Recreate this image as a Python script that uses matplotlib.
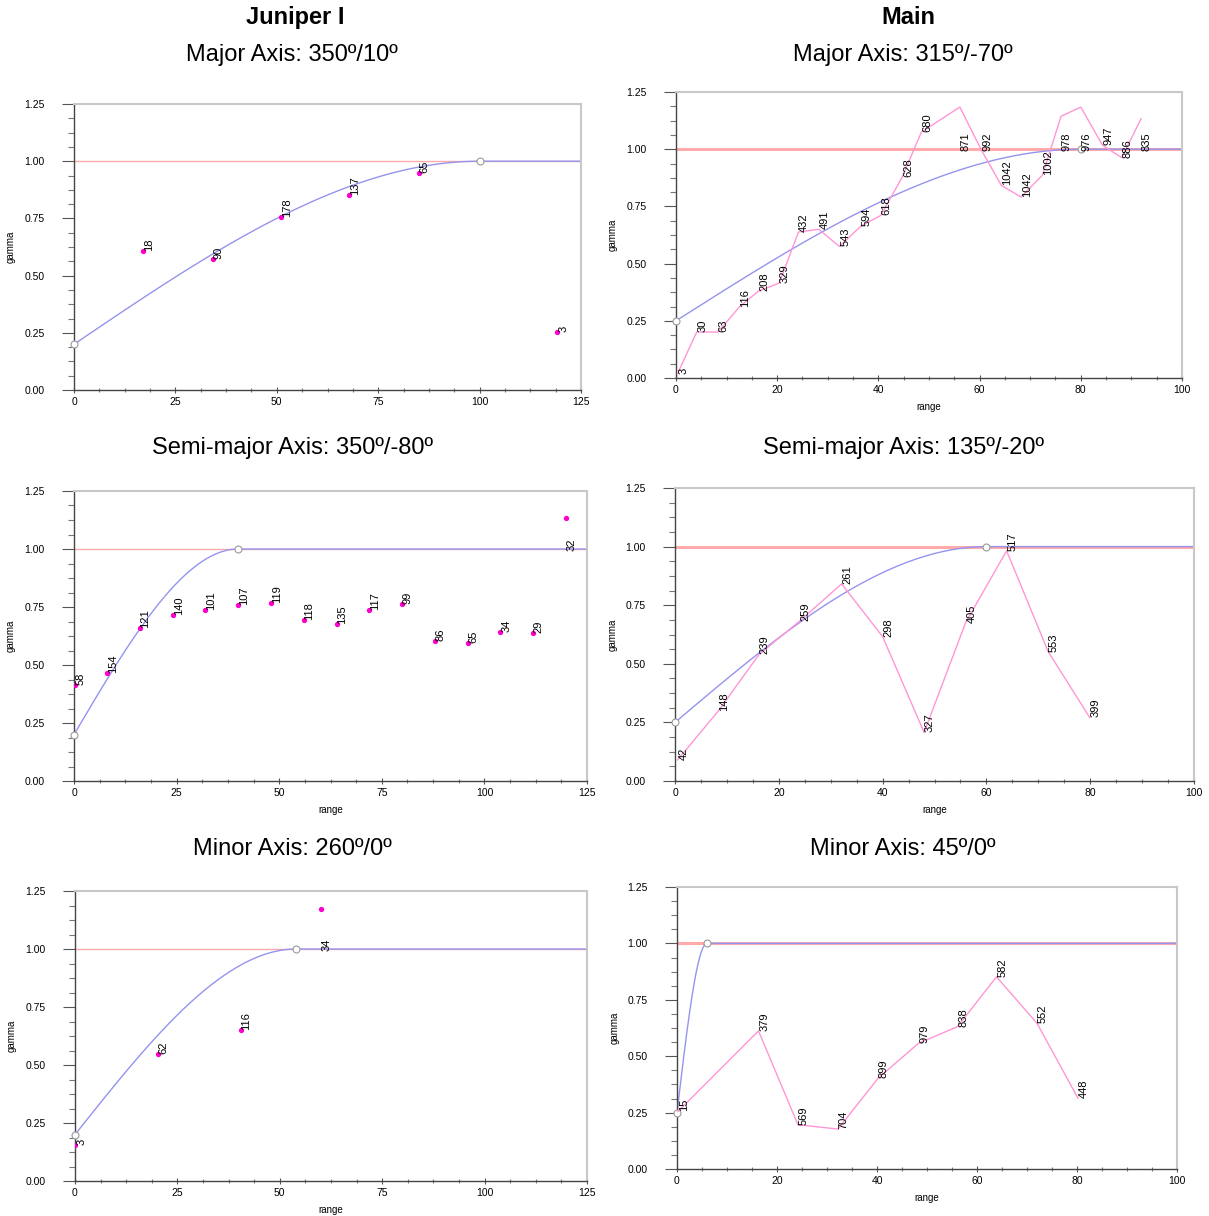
import numpy as np
import matplotlib
matplotlib.use('Agg')
import matplotlib.pyplot as plt
from matplotlib.ticker import MultipleLocator, AutoMinorLocator

plt.rcParams['font.family'] = ['Liberation Sans', 'DejaVu Sans']

# Juniper I - experimental variogram points (lag, gamma, number of pairs)
jun_major_lag = [17.0, 34.2, 51.1, 67.9, 85.1, 119.2]
jun_major_gamma = [0.609, 0.571, 0.756, 0.852, 0.950, 0.252]
jun_major_pairs = [18, 90, 178, 137, 65, 3]

jun_semi_lag = [0.2, 8.1, 16.0, 24.1, 32.0, 40.0, 48.0, 56.0, 64.0, 72.0,
                79.9, 87.9, 95.9, 103.9, 111.9, 119.9]
jun_semi_gamma = [0.415, 0.464, 0.661, 0.714, 0.736, 0.757, 0.767, 0.695, 0.675,
                  0.736, 0.761, 0.603, 0.596, 0.644, 0.639, 1.135]
jun_semi_pairs = [58, 154, 121, 140, 101, 107, 119, 118, 135, 117, 99, 86, 65, 34, 29, 32]

jun_minor_lag = [0.1, 20.3, 40.5, 60.0]
jun_minor_gamma = [0.154, 0.548, 0.652, 1.171]
jun_minor_pairs = [3, 62, 116, 34]

# Main
main_major_lag = [0.3, 4.1, 8.3, 12.5, 16.3, 20.4, 24.2, 28.2, 32.3, 36.5, 40.5, 44.7,
                  48.5, 56.1, 60.5, 64.3, 68.2, 72.4, 76.1, 80.0, 84.3, 88.1, 91.9]
main_major_gamma = [0.019, 0.201, 0.201, 0.310, 0.380, 0.415, 0.638, 0.650, 0.575, 0.663,
                    0.711, 0.878, 1.075, 1.184, 0.990, 0.842, 0.791, 0.886, 1.144, 1.184,
                    1.017, 0.963, 1.133]
main_major_pairs = [3, 30, 63, 116, 208, 329, 432, 491, 543, 594, 618, 628, 680, 871, 992,
                    1042, 1042, 1002, 978, 976, 947, 886, 835]

main_semi_lag = [0.5, 8.4, 16.2, 24.1, 32.1, 40.0, 48.0, 56.0, 63.9, 71.9, 79.9]
main_semi_gamma = [0.09, 0.30, 0.54, 0.684, 0.841, 0.616, 0.207, 0.676, 0.982, 0.552, 0.271]
main_semi_pairs = [42, 148, 239, 259, 261, 298, 327, 405, 517, 553, 399]

main_minor_lag = [0.2, 16.3, 24.2, 32.2, 40.2, 48.3, 56.1, 63.9, 72.0, 80.2]
main_minor_gamma = [0.255, 0.612, 0.196, 0.177, 0.402, 0.557, 0.631, 0.852, 0.646, 0.314]
main_minor_pairs = [15, 379, 569, 704, 899, 979, 838, 582, 552, 448]

# spherical model parameters (nugget, range), sill = 1
jun_models = [(0.2, 100), (0.2, 40), (0.2, 54)]
main_models = [(0.25, 80), (0.25, 60), (0.25, 6)]

left_titles = ['Major Axis: 350º/10º', 'Semi-major Axis: 350º/-80º', 'Minor Axis: 260º/0º']
right_titles = ['Major Axis: 315º/-70º', 'Semi-major Axis: 135º/-20º', 'Minor Axis: 45º/0º']

W, H = 1209, 1216
fig = plt.figure(figsize=(W / 100, H / 100), dpi=100)


def px_axes(l, r, t, b):
    return fig.add_axes([l / W, 1 - b / H, (r - l) / W, (b - t) / H])


def spherical(h, nugget, a, sill=1.0):
    r = np.clip(h / a, 0, 1)
    return nugget + (sill - nugget) * (1.5 * r - 0.5 * r ** 3)


def draw_panel(ax, lag, gamma, pairs, model, xmax, xstep, line, xlabel, red_lw):
    nugget, a = model
    ax.plot([0, xmax], [1, 1], color='#ffabab', lw=red_lw, zorder=1)
    h = np.linspace(0, xmax, 600)
    ax.plot(h, spherical(h, nugget, a), color='#9494ee', lw=1, zorder=2)
    ax.plot([0, a], [nugget, 1], 'o', ms=5, mfc='white', mec='#9a9a9a', mew=0.8,
            zorder=3, clip_on=False)
    if line:
        ax.plot(lag, gamma, color='#ff96d6', lw=1, zorder=4)
    else:
        ax.plot(lag, gamma, 'o', color='#ff00cc', ms=2.8, zorder=4)
    for x, y, n in zip(lag, gamma, pairs):
        ylab = y if y < 1.1 else 0.99
        ax.annotate(str(n), (x, ylab), xytext=(0.5, 0), textcoords='offset points',
                    rotation=90, ha='left', va='bottom', fontsize=8, zorder=5)
    ax.set_xlim(0, xmax)
    ax.set_ylim(0, 1.25)
    ax.xaxis.set_major_locator(MultipleLocator(xstep))
    ax.xaxis.set_minor_locator(AutoMinorLocator(4))
    ax.yaxis.set_major_locator(MultipleLocator(0.25))
    ax.yaxis.set_minor_locator(AutoMinorLocator(4))
    ax.yaxis.set_major_formatter(plt.FormatStrFormatter('%.2f'))
    ax.tick_params(axis='y', which='major', length=9, width=0.8, color='#555555',
                   labelsize=7.5, pad=12)
    ax.tick_params(axis='y', which='minor', length=4, width=0.8, color='#777777')
    ax.tick_params(axis='x', which='major', length=4, width=0.8, color='#555555',
                   labelsize=7.5, direction='inout', pad=3)
    ax.tick_params(axis='x', which='minor', length=3, width=0.8, color='#777777',
                   direction='inout')
    for s in ['left', 'bottom']:
        ax.spines[s].set_color('#444444')
        ax.spines[s].set_linewidth(1)
    for s in ['top', 'right']:
        ax.spines[s].set_color('#c8c8c8')
        ax.spines[s].set_linewidth(1.5)
    ax.set_ylabel('gamma', fontsize=7, labelpad=6)
    if xlabel:
        ax.set_xlabel('range', fontsize=7, labelpad=5)


left_boxes = [(74, 581, 104, 390), (74, 587, 491, 781), (75, 587, 891, 1181)]
right_boxes = [(676, 1182, 92, 378), (675, 1194, 488, 781), (677, 1177, 887, 1169)]

jun_sets = [(jun_major_lag, jun_major_gamma, jun_major_pairs),
            (jun_semi_lag, jun_semi_gamma, jun_semi_pairs),
            (jun_minor_lag, jun_minor_gamma, jun_minor_pairs)]
main_sets = [(main_major_lag, main_major_gamma, main_major_pairs),
             (main_semi_lag, main_semi_gamma, main_semi_pairs),
             (main_minor_lag, main_minor_gamma, main_minor_pairs)]

for i in range(3):
    ax = px_axes(*left_boxes[i])
    lag, gamma, pairs = jun_sets[i]
    draw_panel(ax, lag, gamma, pairs, jun_models[i], 125, 25, False, i > 0, 1.0)
    ax = px_axes(*right_boxes[i])
    lag, gamma, pairs = main_sets[i]
    draw_panel(ax, lag, gamma, pairs, main_models[i], 100, 20, True, True, 2.2)

# titles
title_y = [61, 454, 855]
fig.text(295 / W, 1 - 24 / H, 'Juniper I', ha='center', va='baseline', fontsize=17,
         fontweight='bold')
fig.text(908 / W, 1 - 24 / H, 'Main', ha='center', va='baseline', fontsize=17,
         fontweight='bold')
for i in range(3):
    fig.text(292 / W, 1 - title_y[i] / H, left_titles[i], ha='center', va='baseline',
             fontsize=17)
    fig.text(903 / W, 1 - title_y[i] / H, right_titles[i], ha='center', va='baseline',
             fontsize=17)

fig.savefig('out.png', dpi=100)
